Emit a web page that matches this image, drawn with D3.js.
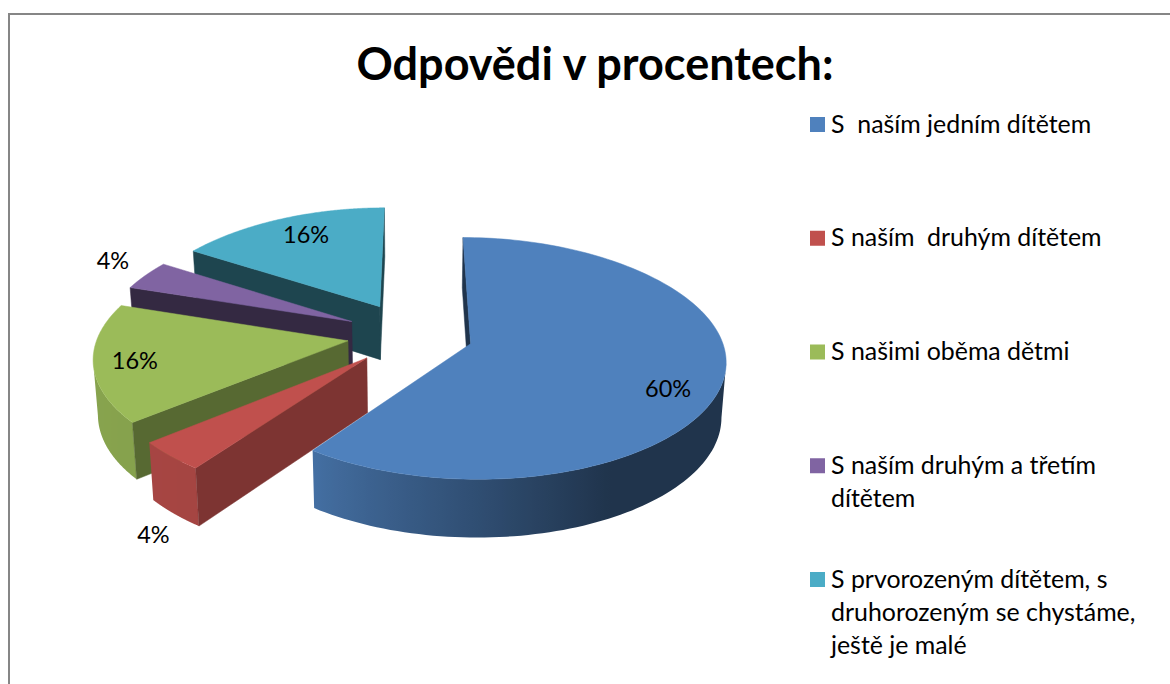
<!DOCTYPE html>
<html><head><meta charset="utf-8">
<script src="https://cdn.jsdelivr.net/npm/d3@7/dist/d3.min.js"></script>
<style>html,body{margin:0;padding:0;background:#fff;overflow:hidden}svg{display:block}text{font-family:Lato,"Open Sans",sans-serif;fill:#000;white-space:pre}</style>
</head><body><svg id="c" width="1170" height="684"><defs id="defs"></defs></svg>
<script>
const title = "Odpovědi v procentech:";
const categories = [
  ["S  naším jedním dítětem"],
  ["S naším  druhým dítětem"],
  ["S našimi oběma dětmi"],
  ["S naším druhým a třetím","dítětem"],
  ["S prvorozeným dítětem, s","druhorozeným se chystáme,","ještě je malé"]
];
const values = [60, 4, 16, 4, 16];
const colors = ["#4f81bd","#c0504d","#9bbb59","#8064a2","#4bacc6"];
const wallShade = [0.40, 0.65, 0.56, 0.41, 0.40];
const explosion = [0.24, 0.263, 0.263, 0.275, 0.285];
const labelRadius = [0.79, 1.08, 0.84, 1.17, 0.72];
const labelDrop = [15, 70, 1, -7, -7];

const svg = d3.select("#c");
const cx = 413, cy = 335, RX = 255, RY = 117, DEPTH = 54;
const xS = d3.scaleLinear().domain([-1,1]).range([cx-RX, cx+RX]);
const yS = d3.scaleLinear().domain([-1,1]).range([cy-RY, cy+RY]);
const project = (u,v,drop=0) => {
  const sx = 0.98 + 0.13*v, sy = 1/(1-0.12*v);
  return [cx + (xS(u*sx)-cx)*(1-0.015*drop), yS(v*sy) + drop*(DEPTH + 4*v)];
};
const shade = (c,k) => { const r=d3.rgb(c); return d3.rgb(r.r*k,r.g*k,r.b*k).formatHex(); };
const arcShade = d3.scaleLinear().domain([152,216,270]).range([0.40,0.86,0.88]).clamp(true);
const line = d3.line();

// frame
svg.append("path").attr("d", line([[9,684],[9,14],[1170,14]]))
  .attr("fill","none").attr("stroke","#868686").attr("stroke-width",2);

const slices = d3.pie().sort(null).value(d=>d)(values);
const world = (s,i,theta,r) => {
  const mid = (s.startAngle+s.endAngle)/2, e = explosion[i];
  return [e*Math.sin(mid)+r*Math.sin(theta), -e*Math.cos(mid)-r*Math.cos(theta)];
};
const draw = [4,3,2,1,0];
const g = svg.append("g");
const defs = d3.select("#defs");
draw.forEach(i=>{
  const s = slices[i], c = colors[i];
  const angles = d3.range(0,145).map(k=>s.startAngle+(s.endAngle-s.startAngle)*k/144);
  const P = (th,r,drop) => { const w = world(s,i,th,r); return project(w[0],w[1],drop); };
  // outer wall: the front-facing run of the arc, shaded along x
  const run = angles.filter((a,k)=> k<angles.length-1 ? P(angles[k+1],1,0)[0] < P(a,1,0)[0] : P(a,1,0)[0] < P(angles[k-1],1,0)[0]);
  if (run.length>1) {
    const xs = run.map(a=>P(a,1,0)[0]);
    const [x0,x1] = d3.extent(xs);
    const grad = defs.append("linearGradient").attr("id","wall"+i)
      .attr("gradientUnits","userSpaceOnUse").attr("x1",x0).attr("x2",x1).attr("y1",0).attr("y2",0);
    const stops = run.map((a,k)=>({o:(xs[k]-x0)/(x1-x0), col:shade(c,arcShade(a*180/Math.PI))})).sort((p,q)=>p.o-q.o);
    stops.forEach(st=>grad.append("stop").attr("offset",st.o).attr("stop-color",st.col));
    const outline = run.map(a=>P(a,1,0)).concat(run.slice().reverse().map(a=>P(a,1,1)));
    g.append("path").attr("d", line(outline)+"Z").attr("fill",`url(#wall${i})`);
  }
  // radial walls, only those whose drop moves away from the slice interior
  const O = P(0,0,0), O2 = P(0,0,1);
  const M = P((s.startAngle+s.endAngle)/2,0.7,0);
  [s.startAngle,s.endAngle].forEach(th=>{
    const T=P(th,1,0), T2=P(th,1,1);
    const dx=T[0]-O[0], dy=T[1]-O[1];
    const crossM = dx*(M[1]-O[1])-dy*(M[0]-O[0]);
    if (crossM*dx>=0) return;
    const col = shade(c, wallShade[i]);
    g.append("path").attr("d", line([O,T,T2,O2])+"Z")
      .attr("fill",col).attr("stroke",col).attr("stroke-width",0.5);
  });
  // top
  g.append("path").attr("d", line([O].concat(angles.map(a=>P(a,1,0))))+"Z")
    .attr("fill",c).attr("stroke",c).attr("stroke-width",0.5);
});

// data labels
slices.forEach((s,i)=>{
  const mid=(s.startAngle+s.endAngle)/2, w=world(s,i,mid,labelRadius[i]), p=project(w[0],w[1],0);
  svg.append("text").attr("x",p[0]).attr("y",p[1]+labelDrop[i]).attr("dy","0.35em")
    .attr("text-anchor","middle").attr("font-size",23.5).text(s.data+"%");
});

// title
svg.append("text").attr("x",595).attr("y",80).attr("text-anchor","middle")
  .attr("font-size",45).attr("font-weight",700).text(title);

// legend
const legendY = d3.scalePoint().domain(d3.range(5)).range([124,579]);
categories.forEach((lines,i)=>{
  const y = legendY(i);
  svg.append("rect").attr("x",810).attr("y",y-7).attr("width",15).attr("height",15).attr("fill",colors[i]);
  lines.forEach((t,j)=>{
    svg.append("text").attr("x",831).attr("y",y+8.5+j*33)
      .attr("font-size",24.9).text(t);
  });
});
</script></body></html>
